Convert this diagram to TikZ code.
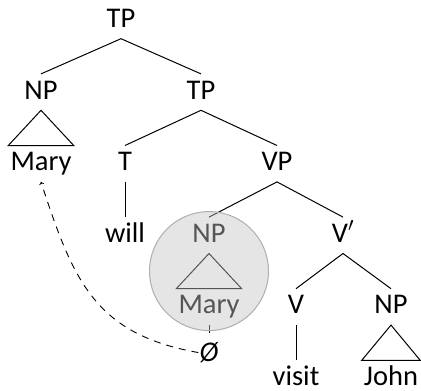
\RequirePackage{fix-cm}
\documentclass[tikz,border=0pt]{standalone}
\usepackage{fontspec}
\setmainfont{Carlito}
\usetikzlibrary{positioning, calc}
\definecolor{movegray}{RGB}{195, 195, 195}
\definecolor{rimgray}{RGB}{175, 175, 175}
\tikzstyle{cat} = [inner xsep=2pt, inner ysep=6pt, text height=19pt, text depth=5pt]
\tikzstyle{branch} = [line width=1pt]
\tikzstyle{moved} = [circle, minimum size=119pt, inner sep=0pt, fill=movegray, fill opacity=0.44, draw=rimgray, line width=1pt]
\tikzstyle{arrow} = [line width=0.9pt, ->, dash pattern=on 7pt off 6pt]

\begin{document}
\begin{tikzpicture}[node distance=71.6pt, font=\fontsize{28.5}{34}\selectfont]
\useasboundingbox (0,0) rectangle (421pt,-391pt);

% Top level
\node (tp) [cat] at (121pt,-20.5pt) {TP};
\node (np) [cat, below of=tp, xshift=-80pt] {NP};
\node (tpbar) [cat, below of=tp, xshift=80pt] {TP};
\node (mary) [cat, below of=np] {Mary};

% Inner TP
\node (t) [cat, below of=tpbar, xshift=-76pt] {T};
\node (vp) [cat, below of=tpbar, xshift=76pt] {VP};
\node (will) [cat, below of=t] {will};

% VP
\node (npmoved) [cat, below of=vp, xshift=-68pt] {NP};
\node (vbar) [cat, below of=vp, xshift=66pt] {V$'$};
\node (marymoved) [cat, below of=npmoved] {Mary};
\node (gap) [below=8pt of marymoved, inner xsep=1pt, inner ysep=9pt] {\textit{Ø}};

% V-bar
\node (v) [cat, below of=vbar, xshift=-47pt] {V};
\node (npobj) [cat, below of=vbar, xshift=48pt] {NP};
\node (visit) [cat, below of=v] {visit};
\node (john) [cat, below of=npobj] {John};

% Branches
\draw [branch] (tp.south) -- (np.north);
\draw [branch] (tp.south) -- (tpbar.north);
\draw [branch] (tpbar.south) -- (t.north);
\draw [branch] (tpbar.south) -- (vp.north);
\draw [branch] (t.south) -- (will.north);
\draw [branch] (vp.south) -- (npmoved.north);
\draw [branch] (vp.south) -- (vbar.north);
\draw [branch] (vbar.south) -- (v.north);
\draw [branch] (vbar.south) -- (npobj.north);
\draw [branch] (v.south) -- (visit.north);
\draw [branch] (marymoved.south) -- (gap.north);

% Triangles
\draw [branch] (np.south) -- (mary.north west) -- (mary.north east) -- cycle;
\draw [branch] (npmoved.south) -- (marymoved.north west) -- (marymoved.north east) -- cycle;
\draw [branch] (npobj.south) -- (john.north west) -- (john.north east) -- cycle;

% Movement
\draw [arrow] (gap.west) to[out=170, in=-72, looseness=1.15] (mary.south);
\node (trace) [moved] at ($(npmoved)!0.5!(marymoved)$) {};

\end{tikzpicture}
\end{document}
